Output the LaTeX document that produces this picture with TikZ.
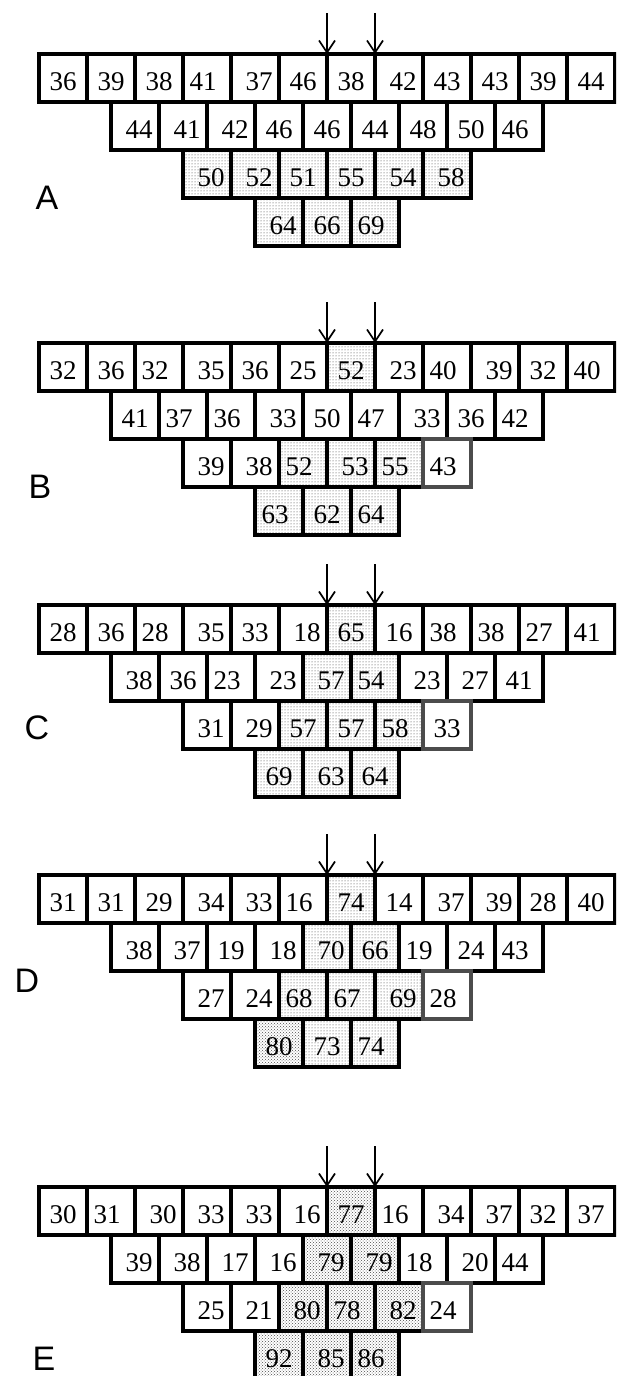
\documentclass[tikz,border=0pt]{standalone}
\usepackage{fontspec}
\setmainfont{Liberation Serif}
\newfontfamily\labfont{Liberation Sans}
\usetikzlibrary{arrows.meta,patterns}
\newcommand\celltxt[2]{\makebox[35pt]{\if#1l\else\hfill\fi#2\if#1r\else\hfill\fi}}
\newcommand\cellrow[5]{%
  \foreach \v/\al/\sh [count=\i] in {#5}{
    \node[cell, apply/.expanded=\sh] (#1-#2-\i) at ({#3+48*\i-24},{#4+24}) {\celltxt{\al}{\v}};
  }%
}
\newcommand\panel[8]{%
  \node[lab] (#1) at (#3,#4) {#1};
  \cellrow{#1}{1}{39}{#2}{#5}
  \cellrow{#1}{2}{111}{#2+48}{#6}
  \cellrow{#1}{3}{183}{#2+96}{#7}
  \cellrow{#1}{4}{255}{#2+144}{#8}
  \coordinate (#1-a1) at (327,{#2-41});
  \coordinate (#1-a2) at (375,{#2-41});
  \draw[arr] (#1-a1) -- (#1-1-7.north west);
  \draw[arr] (#1-a2) -- (#1-1-7.north east);
}
\begin{document}
\begin{tikzpicture}[x=1pt,y=-1pt,
  apply/.style={#1},
  cell/.style={draw=black, line width=3.1pt, minimum width=48pt, minimum height=48pt,
    inner sep=0pt, outer sep=0pt, text height=25.5pt, text depth=0pt,
    font=\fontsize{27}{27}\selectfont},
  pl/.style={fill=white},
  dt/.style={pattern=dots, pattern color=black!80},
  dd/.style={pattern=crosshatch dots, pattern color=black!70},
  gb/.style={fill=white, draw=black!70},
  lab/.style={font=\labfont\fontsize{34}{34}\selectfont, inner sep=0pt},
  arr/.style={line width=1.7pt, -{Straight Barb[length=12pt,width=16pt,line width=1.7pt]}}]
\useasboundingbox (0,0) rectangle (616,1376);
\clip (0,0) rectangle (616,1376);
\fill[white] (0,0) rectangle (616,1376);

\panel{A}{54}{47}{198}
 {36/c/pl,39/c/pl,38/c/pl,41/l/pl,37/r/pl,46/c/pl,38/c/pl,42/r/pl,43/c/pl,43/c/pl,39/c/pl,44/c/pl}
 {44/r/pl,41/r/pl,42/r/pl,46/c/pl,46/c/pl,44/c/pl,48/c/pl,50/c/pl,46/l/pl}
 {50/r/dt,52/r/dt,51/c/dt,55/c/dt,54/r/dt,58/r/dt}
 {64/r/dt,66/c/dt,69/l/dt}

\panel{B}{343}{40}{487}
 {32/c/pl,36/c/pl,32/l/pl,35/r/pl,36/c/pl,25/c/pl,52/c/dt,23/r/pl,40/l/pl,39/r/pl,32/c/pl,40/l/pl}
 {41/c/pl,37/l/pl,36/l/pl,33/r/pl,50/c/pl,47/l/pl,33/r/pl,36/c/pl,42/l/pl}
 {39/r/pl,38/r/pl,52/l/dt,53/r/dt,55/l/dt,43/l/gb}
 {63/l/dt,62/c/dt,64/l/dt}

\panel{C}{605}{37}{728}
 {28/c/pl,36/c/pl,28/l/pl,35/r/pl,33/c/pl,18/r/pl,65/c/dt,16/c/pl,38/l/pl,38/l/pl,27/l/pl,41/l/pl}
 {38/r/pl,36/c/pl,23/l/pl,23/r/pl,57/r/dt,54/l/dt,23/r/pl,27/r/pl,41/c/pl}
 {31/r/pl,29/r/pl,57/c/dt,57/c/dt,58/l/dt,33/c/gb}
 {69/c/dt,63/r/dt,64/c/dt}

\panel{D}{875}{27}{981}
 {31/c/pl,31/c/pl,29/c/pl,34/r/pl,33/r/pl,16/l/pl,74/c/dt,14/c/pl,37/r/pl,39/r/pl,28/c/pl,40/c/pl}
 {38/r/pl,37/r/pl,19/c/pl,18/r/pl,70/r/dt,66/c/dt,19/l/pl,24/c/pl,43/l/pl}
 {27/r/pl,24/r/pl,68/l/dt,67/l/dt,69/r/dt,28/l/gb}
 {80/c/dd,73/c/dt,74/l/dt}

\panel{E}{1187}{44}{1359}
 {30/c/pl,31/l/pl,30/r/pl,33/r/pl,33/r/pl,16/r/pl,77/c/dd,16/l/pl,34/r/pl,37/r/pl,32/c/pl,37/c/pl}
 {39/r/pl,38/r/pl,17/r/pl,16/r/pl,79/r/dd,79/r/dd,18/l/pl,20/r/pl,44/l/pl}
 {25/r/pl,21/r/pl,80/r/dd,78/l/dd,82/r/dd,24/l/gb}
 {92/c/dd,85/r/dd,86/l/dd}
\end{tikzpicture}
\end{document}
